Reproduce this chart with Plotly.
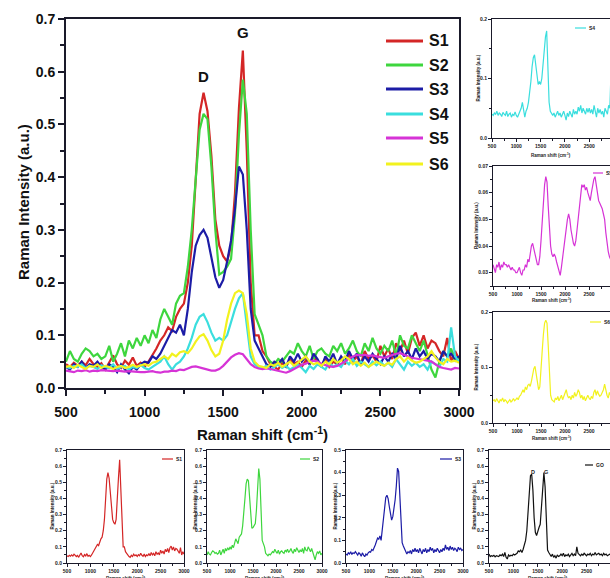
import plotly.graph_objects as go

W, H = 610, 578

raman_shift = list(range(500, 3001, 25))

s1 = [0.045, 0.040, 0.048, 0.042, 0.050, 0.043, 0.055, 0.045, 0.040, 0.047,
      0.035, 0.050, 0.062, 0.045, 0.038, 0.052, 0.044, 0.058, 0.042, 0.048,
      0.040, 0.050, 0.062, 0.075, 0.090, 0.100, 0.115, 0.108, 0.135, 0.150,
      0.160, 0.200, 0.270, 0.400, 0.520, 0.560, 0.525, 0.440, 0.320, 0.270,
      0.250, 0.240, 0.270, 0.370, 0.530, 0.640, 0.450, 0.200, 0.100, 0.100,
      0.070, 0.060, 0.045, 0.040, 0.035, 0.048, 0.040, 0.055, 0.045, 0.050,
      0.040, 0.052, 0.045, 0.060, 0.048, 0.042, 0.055, 0.040, 0.050, 0.045,
      0.058, 0.045, 0.065, 0.050, 0.060, 0.045, 0.070, 0.055, 0.062, 0.050,
      0.080, 0.060, 0.075, 0.055, 0.085, 0.070, 0.090, 0.065, 0.095, 0.105,
      0.080, 0.100, 0.075, 0.090, 0.085, 0.070, 0.060, 0.095, 0.050, 0.070,
      0.055]

s2 = [0.050, 0.070, 0.055, 0.050, 0.065, 0.075, 0.070, 0.060, 0.065, 0.055,
      0.060, 0.080, 0.050, 0.065, 0.085, 0.060, 0.090, 0.075, 0.095, 0.080,
      0.100, 0.085, 0.110, 0.095, 0.130, 0.150, 0.135, 0.120, 0.160, 0.175,
      0.180, 0.230, 0.300, 0.400, 0.490, 0.520, 0.510, 0.420, 0.300, 0.215,
      0.220, 0.230, 0.245, 0.330, 0.480, 0.585, 0.520, 0.300, 0.140, 0.120,
      0.100, 0.060, 0.050, 0.045, 0.055, 0.050, 0.060, 0.070, 0.065, 0.085,
      0.070, 0.060, 0.080, 0.055, 0.070, 0.075, 0.065, 0.060, 0.080, 0.070,
      0.085, 0.065, 0.075, 0.090, 0.070, 0.060, 0.085, 0.070, 0.095, 0.075,
      0.065, 0.080, 0.070, 0.090, 0.060, 0.100, 0.080, 0.075, 0.100, 0.085,
      0.070, 0.090, 0.060, 0.035, 0.020, 0.050, 0.070, 0.060, 0.075, 0.050,
      0.060]

s3 = [0.040, 0.035, 0.045, 0.040, 0.050, 0.038, 0.045, 0.042, 0.050, 0.040,
      0.035, 0.045, 0.040, 0.030, 0.045, 0.035, 0.028, 0.040, 0.035, 0.045,
      0.050, 0.048, 0.060, 0.055, 0.065, 0.080, 0.095, 0.110, 0.105, 0.120,
      0.100, 0.150, 0.220, 0.270, 0.290, 0.300, 0.285, 0.250, 0.210, 0.190,
      0.205, 0.240, 0.280, 0.340, 0.420, 0.405, 0.300, 0.150, 0.090, 0.075,
      0.060, 0.045, 0.040, 0.050, 0.045, 0.055, 0.040, 0.060, 0.050, 0.065,
      0.050, 0.060, 0.045, 0.065, 0.055, 0.040, 0.060, 0.050, 0.065, 0.045,
      0.060, 0.050, 0.070, 0.055, 0.065, 0.045, 0.060, 0.050, 0.065, 0.055,
      0.045, 0.060, 0.050, 0.065, 0.055, 0.080, 0.060, 0.070, 0.055, 0.075,
      0.060, 0.070, 0.055, 0.065, 0.060, 0.050, 0.070, 0.060, 0.065, 0.055,
      0.060]

s4 = [0.040, 0.038, 0.042, 0.040, 0.045, 0.038, 0.042, 0.040, 0.036, 0.043,
      0.040, 0.038, 0.045, 0.036, 0.040, 0.042, 0.035, 0.040, 0.038, 0.044,
      0.038, 0.035, 0.040, 0.045, 0.050, 0.060, 0.045, 0.035, 0.045, 0.050,
      0.060, 0.075, 0.095, 0.120, 0.135, 0.140, 0.125, 0.105, 0.090, 0.095,
      0.090, 0.100, 0.125, 0.150, 0.170, 0.180, 0.120, 0.060, 0.045, 0.040,
      0.038, 0.042, 0.035, 0.040, 0.045, 0.038, 0.042, 0.035, 0.040, 0.045,
      0.038, 0.030, 0.042, 0.036, 0.045, 0.040, 0.035, 0.048, 0.040, 0.045,
      0.040, 0.052, 0.045, 0.055, 0.042, 0.050, 0.045, 0.040, 0.050, 0.043,
      0.050, 0.042, 0.048, 0.040, 0.055, 0.045, 0.035, 0.050, 0.042, 0.048,
      0.040, 0.045, 0.035, 0.050, 0.045, 0.040, 0.055, 0.050, 0.115, 0.060,
      0.050]

s5 = [0.033, 0.031, 0.030, 0.033, 0.032, 0.034, 0.031, 0.033, 0.032, 0.034,
      0.033, 0.033, 0.032, 0.033, 0.032, 0.031, 0.032, 0.031, 0.031, 0.030,
      0.030, 0.031, 0.032, 0.030, 0.029, 0.031, 0.031, 0.033, 0.032, 0.035,
      0.034, 0.037, 0.040, 0.041, 0.039, 0.036, 0.034, 0.033, 0.033, 0.036,
      0.042, 0.050, 0.058, 0.063, 0.066, 0.064, 0.055, 0.045, 0.040, 0.037,
      0.036, 0.037, 0.036, 0.034, 0.032, 0.031, 0.029, 0.032, 0.036, 0.040,
      0.044, 0.046, 0.050, 0.052, 0.050, 0.046, 0.043, 0.041, 0.040, 0.042,
      0.046, 0.050, 0.056, 0.060, 0.063, 0.062, 0.063, 0.061, 0.062, 0.060,
      0.058, 0.057, 0.060, 0.063, 0.065, 0.066, 0.063, 0.059, 0.057, 0.056,
      0.055, 0.054, 0.052, 0.050, 0.045, 0.040, 0.038, 0.036, 0.035, 0.038,
      0.037]

s6 = [0.040, 0.042, 0.038, 0.044, 0.040, 0.036, 0.042, 0.040, 0.045, 0.038,
      0.042, 0.040, 0.036, 0.040, 0.042, 0.038, 0.040, 0.044, 0.040, 0.042,
      0.045, 0.042, 0.048, 0.050, 0.055, 0.060, 0.055, 0.065, 0.060, 0.068,
      0.070, 0.066, 0.075, 0.088, 0.098, 0.102, 0.090, 0.072, 0.060, 0.065,
      0.090, 0.130, 0.160, 0.180, 0.185, 0.180, 0.140, 0.075, 0.050, 0.042,
      0.040, 0.038, 0.045, 0.042, 0.048, 0.040, 0.045, 0.050, 0.042, 0.048,
      0.055, 0.060, 0.050, 0.045, 0.048, 0.042, 0.050, 0.045, 0.055, 0.048,
      0.052, 0.060, 0.055, 0.045, 0.050, 0.042, 0.048, 0.040, 0.045, 0.050,
      0.045, 0.042, 0.048, 0.044, 0.055, 0.060, 0.050, 0.058, 0.052, 0.048,
      0.050, 0.055, 0.060, 0.070, 0.058, 0.050, 0.045, 0.055, 0.050, 0.052,
      0.048]

go_ref = [0.055, 0.040, 0.045, 0.042, 0.048, 0.038, 0.045, 0.042, 0.040, 0.050,
          0.045, 0.055, 0.040, 0.065, 0.035, 0.025, 0.050, 0.042, 0.048, 0.045,
          0.055, 0.050, 0.058, 0.060, 0.075, 0.070, 0.080, 0.065, 0.085, 0.110,
          0.140, 0.200, 0.300, 0.430, 0.540, 0.550, 0.450, 0.280, 0.190, 0.170,
          0.200, 0.220, 0.240, 0.340, 0.500, 0.560, 0.470, 0.200, 0.080, 0.065,
          0.050, 0.040, 0.055, 0.035, 0.045, 0.030, 0.050, 0.040, 0.045, 0.055,
          0.045, 0.060, 0.040, 0.050, 0.045, 0.055, 0.040, 0.050, 0.060, 0.045,
          0.055, 0.045, 0.100, 0.060, 0.050, 0.045, 0.055, 0.048, 0.060, 0.050,
          0.045, 0.055, 0.050, 0.060, 0.045, 0.055, 0.050, 0.065, 0.050, 0.055,
          0.060, 0.050, 0.055, 0.045, 0.060, 0.050, 0.055, 0.045, 0.050, 0.055,
          0.050]

names = ["S1", "S2", "S3", "S4", "S5", "S6"]
colors = {"S1": "#d42626", "S2": "#3ed63e", "S3": "#1c1ca6", "S4": "#3adede",
          "S5": "#d633d6", "S6": "#f2f21e", "GO": "#111111"}
data = {"S1": s1, "S2": s2, "S3": s3, "S4": s4, "S5": s5, "S6": s6, "GO": go_ref}

FONT = "Liberation Sans, Arial, sans-serif"
INK = "#111111"
INK2 = "#222222"
FRAME = "#1a1a2a"


def fx(px):
    return px / W


def fy(py):
    return 1 - py / H


def note(px, py, text, size, xanchor="center", angle=0, color=INK):
    return dict(x=fx(px), y=fy(py), xref="paper", yref="paper", text=text,
                xanchor=xanchor, yanchor="middle", textangle=angle, showarrow=False,
                font=dict(size=size, family=FONT, weight="bold", color=color))


def pline(ax0, ay0, ax1, ay1, color, width):
    return dict(type="line", xref="paper", yref="paper",
                x0=fx(ax0), y0=fy(ay0), x1=fx(ax1), y1=fy(ay1),
                line=dict(color=color, width=width))


fig = go.Figure()
shapes = []
annotations = []

# ---------------- main panel ----------------
for n in names:
    fig.add_trace(go.Scatter(x=raman_shift, y=data[n], mode="lines", name=n,
                             line=dict(color=colors[n], width=2.2),
                             xaxis="x", yaxis="y", showlegend=False))

layout = dict(
    width=W, height=H, margin=dict(l=0, r=0, t=0, b=0, autoexpand=False),
    paper_bgcolor="white", plot_bgcolor="white", showlegend=False,
    font=dict(family=FONT, color=INK),
)

layout["xaxis"] = dict(
    domain=[fx(66), fx(459)], anchor="y", range=[500, 3000], tickmode="linear", dtick=500, tick0=500,
    showline=True, linewidth=2, linecolor=FRAME, mirror=True, showgrid=False, zeroline=False,
    ticks="outside", ticklen=6, tickwidth=2, tickcolor=FRAME, ticklabelstandoff=4,
    minor=dict(ticks="outside", ticklen=4, tickwidth=1.5, dtick=250, tickcolor=FRAME),
    tickfont=dict(size=14, family=FONT, weight="bold", color=INK),
)
layout["yaxis"] = dict(
    domain=[fy(388), fy(19)], anchor="x", range=[0, 0.7], tickmode="linear", dtick=0.1, tick0=0,
    tickformat=".1f",
    showline=True, linewidth=2, linecolor=FRAME, mirror=True, showgrid=False, zeroline=False,
    ticks="outside", ticklen=6, tickwidth=2, tickcolor=FRAME,
    minor=dict(ticks="outside", ticklen=4, tickwidth=1.5, dtick=0.05, tickcolor=FRAME),
    tickfont=dict(size=14, family=FONT, weight="bold", color=INK),
)

annotations.append(note(262, 433, "Raman shift (cm<sup>-1</sup>)", 15))
annotations.append(note(23, 202, "Raman Intensity (a.u.)", 15, angle=-90))
annotations.append(note(203, 77, "D", 15))
annotations.append(note(243, 33, "G", 15))

leg_y = [41, 65, 89, 114, 138, 164]
for n, ly in zip(names, leg_y):
    shapes.append(pline(386, ly, 423, ly, colors[n], 3))
    annotations.append(note(427, ly, n, 16, xanchor="left"))

# ---------------- small panels ----------------
# key, x0, x1, ytop, ybot, yrange, ytick0, ydtick, yfmt, xrange, cut_right, legend(x0,x1,y), ytitle x, xtitle y
panels = [
    ("S4", 492, 610, 19, 138, [0, 0.2], 0, 0.1, ".1f", [500, 2928], True, (575, 586, 28), 478, 155),
    ("S5", 493, 610, 166, 286, [0.025, 0.07], 0.03, 0.01, ".2f", [500, 2937], True, (593, 603, 173), 476, 300),
    ("S6", 493, 610, 312, 423, [0, 0.2], 0, 0.1, ".1f", [500, 2937], True, (590, 601, 322), 476, 438),
    ("S1", 67, 184, 450, 563, [0, 0.7], 0, 0.1, ".1f", [500, 3000], False, (162, 173, 459), 52, 578),
    ("S2", 207, 322, 450, 563, [0, 0.7], 0, 0.1, ".1f", [500, 3000], False, (300, 310, 459), 195, 578),
    ("S3", 346, 463, 450, 563, [0, 0.5], 0, 0.1, ".1f", [500, 3000], False, (440, 452, 459), 335, 578),
    ("GO", 489, 610, 450, 563, [0, 0.7], 0, 0.1, ".1f", [500, 2980], True, (585, 593, 465), 474, 578),
]

small_font = dict(size=5, family=FONT, weight="bold", color=INK2)
for i, (key, x0, x1, yt, yb, yr, yt0, ydt, yfmt, xr, cut, leg, ytx, xty) in enumerate(panels, start=2):
    xa, ya = f"x{i}", f"y{i}"
    fig.add_trace(go.Scatter(x=raman_shift, y=data[key], mode="lines", name=key,
                             line=dict(color=colors[key], width=1.2),
                             xaxis=xa, yaxis=ya, showlegend=False))
    layout[f"xaxis{i}"] = dict(
        domain=[fx(x0), fx(x1)], anchor=ya, range=xr, tickmode="linear", dtick=500, tick0=500,
        showline=True, linewidth=1, linecolor=FRAME, mirror=True, showgrid=False, zeroline=False,
        ticks="outside", ticklen=3, tickwidth=1, tickcolor=FRAME,
        minor=dict(ticks="outside", ticklen=2, tickwidth=0.8, dtick=250, tickcolor=FRAME),
        tickfont=small_font,
    )
    layout[f"yaxis{i}"] = dict(
        domain=[fy(yb), fy(yt)], anchor=xa, range=yr, tickmode="linear", tick0=yt0, dtick=ydt,
        tickformat=yfmt,
        showline=True, linewidth=1, linecolor=FRAME, mirror=not cut, showgrid=False, zeroline=False,
        ticks="outside", ticklen=3, tickwidth=1, tickcolor=FRAME,
        minor=dict(ticks="outside", ticklen=2, tickwidth=0.8, dtick=ydt / 2, tickcolor=FRAME),
        tickfont=small_font,
    )
    lx0, lx1, lyy = leg
    shapes.append(pline(lx0, lyy, lx1, lyy, colors[key], 1.2))
    annotations.append(note(lx1 + 1, lyy, key, 5, xanchor="left", color=INK2))
    annotations.append(note(ytx, (yt + yb) / 2, "Raman Intensity (a.u.)", 4.5, angle=-90, color=INK2))
    annotations.append(note((x0 + min(x1, x0 + 118)) / 2, xty, "Raman shift (cm<sup>-1</sup>)", 4.5,
                            color=INK2))

annotations.append(note(533, 472, "D", 5.5, color=INK2))
annotations.append(note(546, 472, "G", 5.5, color=INK2))

layout["shapes"] = shapes
layout["annotations"] = annotations
fig.update_layout(**layout)

fig.write_html("out.html")
